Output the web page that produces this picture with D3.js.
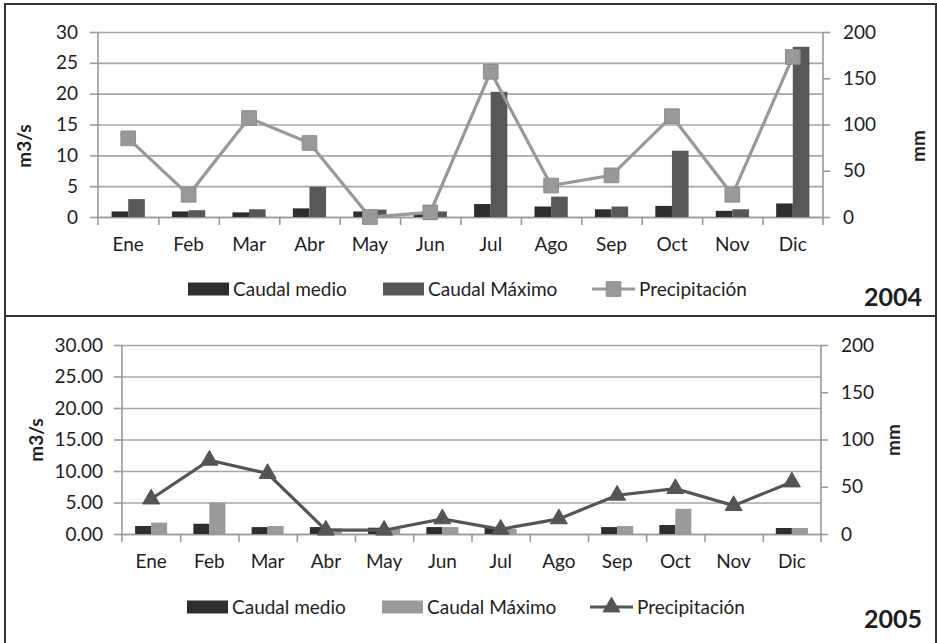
<!DOCTYPE html>
<html>
<head>
<meta charset="utf-8">
<script src="https://cdn.jsdelivr.net/npm/d3@7"></script>
<style>
  body { margin: 0; background: #fff; }
  svg { display: block; font-family: Lato, "Open Sans", sans-serif; }
</style>
</head>
<body>
<svg id="chart" width="937" height="643"></svg>
<script>
var months = ["Ene", "Feb", "Mar", "Abr", "May", "Jun", "Jul", "Ago", "Sep", "Oct", "Nov", "Dic"];
var seriesNames = ["Caudal medio", "Caudal Máximo", "Precipitación"];

// 2004
var medio2004 = [0.9, 0.9, 0.75, 1.4, 0.9, 0.8, 2.1, 1.7, 1.25, 1.8, 1.0, 2.2];
var maximo2004 = [2.9, 1.1, 1.25, 4.9, 1.2, 0.9, 20.3, 3.3, 1.7, 10.75, 1.25, 27.6];
var precip2004 = [85, 24, 107, 80, 0, 5, 157, 34, 45, 109, 24, 173];

// 2005
var medio2005 = [1.27, 1.63, 1.1, 1.1, 1.0, 1.1, 1.0, 0, 1.1, 1.43, 0, 0.95];
var maximo2005 = [1.8, 5.0, 1.27, 0.9, 0.8, 1.1, 0.8, 0, 1.27, 4.0, 0, 0.95];
var precip2005 = [37, 78, 64, 4, 4, 16, 5, 16, 41, 48, 30, 55];

var leftTicks = [0, 5, 10, 15, 20, 25, 30];
var rightTicks = [0, 50, 100, 150, 200];

var FS = 19;
var svg = d3.select("#chart");

var drawPanel = function (cfg) {
    var g = svg.append("g");
    var x = d3.scaleBand().domain(months).range([cfg.left, cfg.right]).padding(0);
    var bw = x.bandwidth();
    var x1 = d3.scaleBand().domain([0, 1]).range([bw * 0.225, bw * 0.775]).padding(0);
    var y = d3.scaleLinear().domain([0, 30]).range([cfg.bottom, cfg.top]);
    var y2 = d3.scaleLinear().domain([0, 200]).range([cfg.bottom, cfg.top]);
    var xEdge = d3.scaleLinear().domain([0, 12]).range([cfg.left, cfg.right]);

    // gridlines
    g.append("g")
        .attr("transform", "translate(" + cfg.left + ",0)")
        .call(d3.axisLeft(y).tickValues(leftTicks).tickSize(-(cfg.right - cfg.left)).tickFormat(""))
        .call(function (a) {
            a.select(".domain").remove();
            a.selectAll("line").attr("stroke", "#a6a6a6").attr("stroke-width", 1.6);
        });

    // left axis
    g.append("g")
        .attr("transform", "translate(" + cfg.left + ",0)")
        .call(d3.axisLeft(y).tickValues(leftTicks).tickSize(8).tickSizeOuter(0).tickPadding(cfg.leftPad).tickFormat(cfg.leftFormat))
        .call(function (a) {
            a.select(".domain").attr("stroke", "#999").attr("stroke-width", 1.6).attr("d", "M0," + cfg.top + "V" + (cfg.bottom + 8));
            a.selectAll("line").attr("stroke", "#999").attr("stroke-width", 1.6);
            a.selectAll("text").attr("font-size", FS).attr("fill", "#1e1e1e").attr("font-family", "Lato");
        });

    // right axis
    g.append("g")
        .attr("transform", "translate(" + cfg.right + ",0)")
        .call(d3.axisRight(y2).tickValues(rightTicks).tickSize(7).tickSizeOuter(0).tickPadding(13))
        .call(function (a) {
            a.select(".domain").attr("stroke", "#999").attr("stroke-width", 1.6).attr("d", "M0," + cfg.top + "V" + (cfg.bottom + 8));
            a.selectAll("line").attr("stroke", "#999").attr("stroke-width", 1.6);
            a.selectAll("text").attr("font-size", FS).attr("fill", "#1e1e1e").attr("font-family", "Lato");
        });

    // x axis tick marks at category edges
    g.append("g")
        .attr("transform", "translate(0," + cfg.bottom + ")")
        .call(d3.axisBottom(xEdge).tickValues(d3.range(1, 12)).tickSize(8).tickSizeOuter(0).tickFormat(""))
        .call(function (a) {
            a.select(".domain").attr("stroke", "#999").attr("stroke-width", 1.6);
            a.selectAll("line").attr("stroke", "#999").attr("stroke-width", 1.6);
        });

    // x labels
    g.append("g")
        .attr("transform", "translate(0," + cfg.bottom + ")")
        .call(d3.axisBottom(x).tickSize(0).tickPadding(21))
        .call(function (a) {
            a.select(".domain").remove();
            a.selectAll("text").attr("font-size", FS).attr("fill", "#1e1e1e").attr("font-family", "Lato");
        });

    // bars
    var barData = months.map(function (m, i) {
        return { m: m, vals: [cfg.medio[i], cfg.maximo[i]] };
    });
    var grp = g.selectAll(".grp").data(barData).enter().append("g")
        .attr("transform", function (d) { return "translate(" + x(d.m) + ",0)"; });
    grp.selectAll("rect").data(function (d) { return d.vals; }).enter().append("rect")
        .attr("x", function (d, i) { return x1(i); })
        .attr("width", x1.bandwidth())
        .attr("y", function (d) { return y(d); })
        .attr("height", function (d) { return y(0) - y(d); })
        .attr("fill", function (d, i) { return cfg.barColors[i]; });

    // precipitation line
    var line = d3.line()
        .x(function (d, i) { return x(months[i]) + bw / 2; })
        .y(function (d) { return y2(d); });
    g.append("path").datum(cfg.precip)
        .attr("d", line)
        .attr("fill", "none")
        .attr("stroke", cfg.lineColor)
        .attr("stroke-width", 3.2);

    var sym = d3.symbol().type(cfg.marker).size(cfg.markerSize);
    g.selectAll(".mk").data(cfg.precip).enter().append("path")
        .attr("transform", function (d, i) { return "translate(" + (x(months[i]) + bw / 2) + "," + y2(d) + ")"; })
        .attr("d", sym)
        .attr("fill", cfg.lineColor)
        .attr("stroke", cfg.markerStroke)
        .attr("stroke-width", 1);

    // axis titles
    g.append("text")
        .attr("transform", "translate(" + cfg.yTitleX + "," + cfg.yTitleY + ") rotate(-90)")
        .attr("text-anchor", "middle")
        .attr("font-size", FS).attr("font-weight", "bold").attr("fill", "#1e1e1e")
        .text("m3/s");
    g.append("text")
        .attr("transform", "translate(" + cfg.y2TitleX + "," + cfg.yTitleY + ") rotate(-90)")
        .attr("text-anchor", "middle")
        .attr("font-size", FS).attr("font-weight", "bold").attr("fill", "#1e1e1e")
        .text("mm");

    // legend
    var ly = cfg.legendY;
    var legend = g.append("g");
    [0, 1].forEach(function (i) {
        legend.append("rect")
            .attr("x", cfg.legendX[i]).attr("y", ly - 6.5)
            .attr("width", 41).attr("height", 13)
            .attr("fill", cfg.barColors[i]);
        legend.append("text")
            .attr("x", cfg.legendX[i] + 45).attr("y", ly + 6.5)
            .attr("font-size", FS).attr("fill", "#1e1e1e")
            .text(seriesNames[i]);
    });
    var lx = cfg.legendX[2];
    legend.append("line")
        .attr("x1", lx).attr("x2", lx + 43).attr("y1", ly).attr("y2", ly)
        .attr("stroke", cfg.lineColor).attr("stroke-width", 3.2);
    legend.append("path")
        .attr("transform", "translate(" + (lx + 21.5) + "," + ly + ")")
        .attr("d", sym)
        .attr("fill", cfg.lineColor)
        .attr("stroke", cfg.markerStroke);
    legend.append("text")
        .attr("x", lx + 47).attr("y", ly + 6.5)
        .attr("font-size", FS).attr("fill", "#1e1e1e")
        .text(seriesNames[2]);

    g.append("text")
        .attr("x", 922).attr("y", cfg.yearY)
        .attr("text-anchor", "end")
        .attr("font-size", 25).attr("font-weight", "bold").attr("fill", "#1e1e1e")
        .text(cfg.year);
};

// panel borders
svg.append("rect").attr("x", 5).attr("y", 4).attr("width", 931).attr("height", 312)
    .attr("fill", "none").attr("stroke", "#333").attr("stroke-width", 2);
svg.append("rect").attr("x", 5).attr("y", 316).attr("width", 931).attr("height", 340)
    .attr("fill", "none").attr("stroke", "#333").attr("stroke-width", 2);

drawPanel({
    left: 98, right: 823, top: 32, bottom: 217,
    leftPad: 12, leftFormat: d3.format("d"),
    medio: medio2004, maximo: maximo2004, precip: precip2004,
    barColors: ["#2e2e2e", "#575757"],
    lineColor: "#999", marker: d3.symbolSquare, markerSize: 215, markerStroke: "#8c8c8c",
    yTitleX: 31, y2TitleX: 925, yTitleY: 146,
    legendY: 289, legendX: [188, 383, 592],
    year: "2004", yearY: 306
});

drawPanel({
    left: 122, right: 821, top: 345, bottom: 534,
    leftPad: 11, leftFormat: d3.format(".2f"),
    medio: medio2005, maximo: maximo2005, precip: precip2005,
    barColors: ["#2e2e2e", "#9a9a9a"],
    lineColor: "#555", marker: d3.symbolTriangle, markerSize: 125, markerStroke: "#555",
    yTitleX: 43, y2TitleX: 900, yTitleY: 440,
    legendY: 607, legendX: [187, 382, 590],
    year: "2005", yearY: 628
});
</script>
</body>
</html>
